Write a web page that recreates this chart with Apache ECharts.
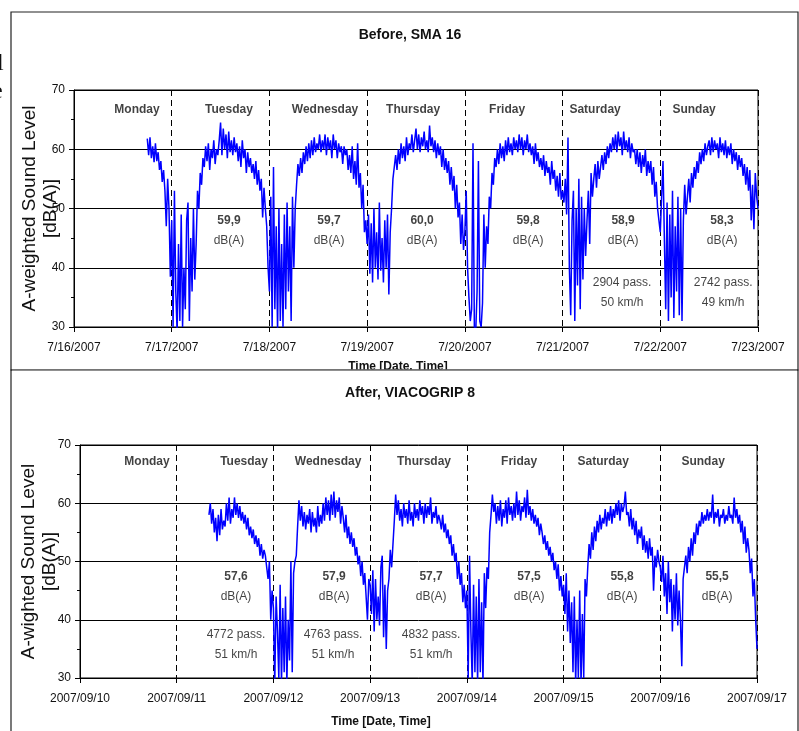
<!DOCTYPE html>
<html>
<head>
<meta charset="utf-8">
<title>Sound level, before / after</title>
<script src="https://cdn.jsdelivr.net/npm/echarts@6.0.0/dist/echarts.min.js"></script>
<style>
  html, body { margin: 0; padding: 0; background: #fff; }
  #chart { width: 799px; height: 731px; }
</style>
</head>
<body>
<div id="chart"></div>
<script>
// 20-minute A-weighted levels, x in days from the first tick
const STEP = 1 / 72;

const dayNames = ['Monday', 'Tuesday', 'Wednesday', 'Thursday', 'Friday', 'Saturday', 'Sunday'];

// ---- Before, SMA 16 ----
const beforeTicks = ['7/16/2007', '7/17/2007', '7/18/2007', '7/19/2007', '7/20/2007', '7/21/2007', '7/22/2007', '7/23/2007'];
const beforeStart = 0.75; // 7/16 18:00
const beforeLevels = [
  // Mon 18:00 - 23:40
  61.8, 59, 62, 58.5, 60.5, 57.8, 61, 58, 59.5, 56.5, 58, 54.5,
  56.5, 53, 47, 55, 50, 38.5,
  // Tue
  48, 30, 53, 36, 29, 44, 31, 49, 30, 40, 33, 48,
  51, 31, 45, 36, 50, 38, 44, 53, 50, 56, 54, 58.5,
  57, 60.5, 58, 61, 56.5, 60, 58.5, 61.5, 57.5, 60, 59, 61.5,
  64.5, 59, 63.5, 60, 62.5, 58.5, 63, 59.5, 61.5, 59, 62, 59.5,
  61, 58, 60.5, 57, 61.5, 58.5, 60, 56, 59.5, 57, 58.5, 56,
  57.5, 55, 58, 54, 56.5, 53, 55, 48.5, 53.5, 50, 47, 40,
  // Wed
  36, 52, 30, 57, 33, 47, 29, 50, 31, 44, 30, 49,
  33, 51, 36, 47, 31, 52, 40, 50, 54, 57.5, 55.5, 58.5,
  56, 59.5, 57.5, 60.5, 58, 61, 58.5, 61.5, 59, 62, 59.5, 61,
  60, 62.5, 59.5, 61.5, 60, 62.5, 59, 62, 60, 61.5, 58.5, 62.5,
  60, 61.5, 58.5, 61, 59.5, 60.5, 57.5, 60.5, 59, 60, 56.5, 59,
  56, 60.5, 55, 58, 54, 61, 53.5, 56, 50, 54, 46, 48,
  // Thu
  44, 49, 39, 47.5, 37.5, 50, 40, 46, 38, 51, 39.5, 45,
  37.5, 48, 40, 49, 35.5, 46, 50, 55, 57, 59, 56.5, 60,
  57.5, 61, 58.5, 60.5, 58, 62, 59, 61, 60, 62.5, 59.5, 61.5,
  63.5, 60, 62.5, 59.5, 62, 60.5, 63, 60, 61.5, 59.5, 64, 60.5,
  62, 59.5, 61.5, 58.5, 61, 59, 60.5, 57, 60, 56.5, 58.5, 56,
  58, 54, 57, 53, 55.5, 50, 54, 48.5, 51, 44, 49, 43,
  // Fri
  46, 53, 40, 35, 31, 33, 61, 30, 29, 36, 58, 31,
  30, 34, 49, 40, 47, 44, 52, 50, 56, 54, 58.5, 57,
  60, 57.5, 61, 58.5, 60.5, 58, 61.5, 59, 62, 59.5, 61, 59,
  62, 60, 61.5, 59.5, 62.5, 60, 62, 59, 61.5, 60, 62.5, 59.5,
  61, 59, 60.5, 57.5, 61, 58, 59.5, 57, 58.5, 56.5, 59, 55.5,
  58, 56, 57, 54, 58, 55, 56.5, 53, 55.5, 52, 56, 51.5,
  // Sat
  53, 51, 55, 49, 62, 40, 32, 48, 53, 31, 50, 37,
  55, 33, 52, 38, 50, 42, 48, 53, 44, 56, 52, 55,
  57.5, 53.5, 58, 55, 57, 59, 56.5, 59.5, 57.5, 60.5, 58.5, 61,
  59.5, 62, 60, 62.5, 59.5, 63, 60.5, 62, 59, 63, 60, 61.5,
  59.5, 62, 58.5, 61, 59.5, 60, 57.5, 60, 57, 59.5, 56, 59,
  57, 60, 55.5, 58, 56, 58, 54, 57, 52, 54.5, 50, 48,
  // Sun
  46, 52, 58, 45, 33, 51, 31, 49, 35, 53, 31.5, 47,
  36, 52, 32, 50, 31, 48, 54, 49, 52, 55, 51, 56,
  53.5, 57, 55, 58, 56, 59.5, 57.5, 60, 58, 61, 59, 60.5,
  61.5, 59, 62, 59.5, 61.5, 60, 61, 58.5, 62, 59.5, 61, 59,
  61.5, 58.5, 60.5, 59, 61, 57.5, 60, 58, 59.5, 56.5, 59, 57,
  58.5, 55.5, 57.5, 54, 57, 53, 56.5, 48, 54, 46.5, 56, 52,
  // 7/23 00:00
  50
];
const beforeMeans = ['59,9', '59,7', '60,0', '59,8', '58,9', '58,3']; // Tue..Sun
const beforeTraffic = [['2904 pass.', '50 km/h'], ['2742 pass.', '49 km/h']]; // Sat, Sun

// ---- After, VIACOGRIP 8 ----
const afterTicks = ['2007/09/10', '2007/09/11', '2007/09/12', '2007/09/13', '2007/09/14', '2007/09/15', '2007/09/16', '2007/09/17'];
const afterStart = 1 + 8 / 24; // 9/11 08:00
const afterLevels = [
  // Tue 08:00 - 23:40
  58, 60, 56.5, 59, 55, 57.5, 53.5, 58, 54.5, 59, 55.5, 57,
  56, 60, 57, 61, 56.5, 59, 57.5, 61, 58, 60, 57.5, 59.5,
  57, 58.5, 56.5, 58, 55.5, 57.5, 54.5, 56, 54, 55.5, 53, 54.5,
  52.5, 54, 51, 53, 50.5, 52, 51, 49, 47, 50, 40, 45,
  // Wed
  42, 29, 44, 38, 30, 46, 29, 42, 31, 44, 29, 40,
  33, 50, 31, 48, 50, 51, 56, 60.5, 57, 59.5, 56, 58.5,
  55.5, 58, 56.5, 59, 55, 58.5, 56, 57.5, 55, 59.5, 56, 58,
  56.5, 60, 57, 61, 58, 60.5, 57, 61.5, 58, 62, 57.5, 60.5,
  58.5, 61, 56.5, 59.5, 57.5, 55, 58, 54, 56, 53, 55, 52.5,
  54, 51, 52.5, 49.5, 51, 47.5, 50, 46, 48, 44, 40, 47,
  // Thu
  46, 41, 48.5, 38, 47, 40, 44, 39, 49, 51, 37, 46,
  35, 45, 47, 52, 49, 53, 57, 61.5, 58, 60.5, 57, 59,
  56, 60, 57.5, 59, 56.5, 60.5, 57, 58.5, 56, 60, 57.5, 59,
  57, 60.5, 58, 59.5, 56.5, 60, 57.5, 59.5, 58, 61, 56.5, 58.5,
  57.5, 59.5, 56.5, 58, 57, 55.5, 58, 55, 56.5, 54, 55.5, 53,
  54.5, 51, 53, 50, 51.5, 47, 50, 46, 48, 43, 46, 42,
  // Fri
  45, 30, 51, 38, 29, 46, 31, 44, 29, 47, 31, 43,
  29, 48, 42, 49, 47, 55, 58, 61.5, 58.5, 60, 56.5, 59.5,
  57, 60.5, 56, 59, 57.5, 60.5, 56.5, 61, 58, 59.5, 57, 60,
  57.5, 62, 58, 60.5, 57, 59.5, 58.5, 61, 57.5, 62.3, 58, 59.5,
  57, 59, 56.5, 58, 56, 57.5, 54.5, 56.5, 55, 53, 54.5, 52,
  53.5, 51, 52.5, 50, 51.5, 48.5, 50, 47, 49.5, 45, 47.5, 44,
  // Sat
  46, 41, 48, 38, 45, 36, 43, 31, 44, 29, 40, 30,
  45, 29, 41, 30, 47, 44, 49, 53, 50.5, 55, 52, 56,
  53.5, 57, 55, 58, 55.5, 57.5, 56.5, 59, 56, 58.5, 57, 59.5,
  56.5, 59, 57.5, 60, 58, 60.5, 57, 60, 58.5, 59.5, 62, 58,
  58.5, 56, 59, 55.5, 57.5, 54.5, 57, 53, 55.5, 54, 56, 52,
  54.5, 51.5, 53.5, 50.5, 54, 51, 52.5, 45, 51, 49, 52, 50,
  // Sun
  49, 46.5, 51, 44, 48, 41, 50, 43, 47, 38, 46, 40,
  48, 39, 45, 40, 32, 47, 49, 51, 48, 52.5, 50, 54,
  51, 55, 53, 56.5, 54.5, 57, 56, 58.5, 56.5, 58, 57, 59,
  57, 58.5, 57.5, 61.5, 56.5, 58.5, 57.5, 59, 56, 58, 57.5, 59,
  56.5, 58, 57, 59.5, 57.5, 58, 56.5, 61, 57.5, 59, 56.5, 58,
  55, 57, 53, 56, 51.5, 54, 52, 48, 50.5, 44, 47, 40,
  // 9/17 00:00
  35
];
const afterMeans = ['57,6', '57,9', '57,7', '57,5', '55,8', '55,5']; // Tue..Sun
const afterTraffic = [['4772 pass.', '51 km/h'], ['4763 pass.', '51 km/h'], ['4832 pass.', '51 km/h']]; // Tue..Thu

const FONT = '"Liberation Sans", Arial, sans-serif';
const INK = '#111';

const toPoints = (start, levels) => levels.map((v, i) => [start + i * STEP, v]);

// annotation placement (x in days, y in dB)
function notes(dayX, dayY, meanX, meanY, means, trafX, trafY, traffic) {
  const items = [];
  dayNames.forEach((d, i) => items.push({ value: [dayX[i], dayY], text: '{d|' + d + '}' }));
  means.forEach((m, i) => items.push({ value: [meanX[i], meanY], text: '{b|' + m + '}\n{n|dB(A)}' }));
  traffic.forEach((t, i) => items.push({ value: [trafX[i], trafY], text: '{n|' + t[0] + '}\n{n|' + t[1] + '}' }));
  return items;
}

function textSeries(idx, items) {
  return {
    type: 'scatter', xAxisIndex: idx, yAxisIndex: idx,
    symbolSize: 0, silent: true, z: 5,
    itemStyle: { color: '#000' },
    label: {
      show: true, position: [0, 0], align: 'center', verticalAlign: 'middle',
      color: INK, textBorderWidth: 0,
      formatter: p => p.data.text,
      rich: {
        d: { fontFamily: FONT, fontSize: 12, fontWeight: 'bold', color: INK, textBorderWidth: 0 },
        b: { fontFamily: FONT, fontSize: 12, fontWeight: 'bold', color: INK, lineHeight: 20, textBorderWidth: 0 },
        n: { fontFamily: FONT, fontSize: 12, color: INK, lineHeight: 20, textBorderWidth: 0 }
      }
    },
    data: items
  };
}

function xAxis(idx, ticks) {
  return {
    type: 'value', gridIndex: idx, min: 0, max: 7, interval: 1,
    axisLine: { lineStyle: { color: '#000', width: 1 } },
    axisTick: { show: true, length: 5, lineStyle: { color: '#000' } },
    axisLabel: { formatter: v => ticks[Math.round(v)], fontFamily: FONT, fontSize: 12, color: INK, margin: 15 },
    splitLine: { show: true, lineStyle: { color: '#000', type: [6, 4], width: 1 } }
  };
}

function yAxis(idx, name, gap) {
  return {
    type: 'value', gridIndex: idx, min: 30, max: 70, interval: 10,
    name: name, nameLocation: 'middle', nameRotate: 90, nameGap: gap, nameMoveOverlap: false,
    nameTextStyle: { fontFamily: FONT, fontSize: 19, color: INK, lineHeight: 21 },
    axisLine: { show: true, lineStyle: { color: '#000', width: 1 } },
    axisTick: { show: true, length: 5, lineStyle: { color: '#000' } },
    minorTick: { show: true, splitNumber: 2, length: 3, lineStyle: { color: '#000' } },
    axisLabel: { fontFamily: FONT, fontSize: 12, color: INK, margin: 9 },
    splitLine: { show: true, lineStyle: { color: '#000', width: 1 } }
  };
}

const chart = echarts.init(document.getElementById('chart'));
chart.setOption({
  animation: false,
  backgroundColor: '#fff',
  title: [
    { text: 'Before, SMA 16', left: 405, top: 23, textAlign: 'center',
      textStyle: { fontFamily: FONT, fontSize: 14, fontWeight: 'bold', color: INK } },
    { text: 'After, VIACOGRIP 8', left: 405, top: 381, textAlign: 'center',
      textStyle: { fontFamily: FONT, fontSize: 14, fontWeight: 'bold', color: INK } }
  ],
  grid: [
    { left: 74, top: 90, width: 684, height: 237, show: true, borderColor: '#000', borderWidth: 1,
      containLabel: false, outerBoundsMode: 'none' },
    { left: 80, top: 445, width: 677, height: 233, show: true, borderColor: '#000', borderWidth: 1,
      containLabel: false, outerBoundsMode: 'none' }
  ],
  xAxis: [xAxis(0, beforeTicks), xAxis(1, afterTicks)],
  yAxis: [yAxis(0, 'A-weighted Sound Level\n[dB(A)]', 13), yAxis(1, 'A-wighted Sound Level\n[dB(A)]', 20)],
  series: [
    { type: 'line', xAxisIndex: 0, yAxisIndex: 0, data: toPoints(beforeStart, beforeLevels),
      showSymbol: false, clip: true, lineStyle: { color: '#0000ff', width: 1.5 } },
    { type: 'line', xAxisIndex: 1, yAxisIndex: 1, data: toPoints(afterStart, afterLevels),
      showSymbol: false, clip: true, lineStyle: { color: '#0000ff', width: 1.5 } },
    textSeries(0, notes(
      [0.645, 1.586, 2.569, 3.470, 4.432, 5.333, 6.346], 66.6,
      [1.586, 2.610, 3.562, 4.647, 5.619, 6.632], 46.2, beforeMeans,
      [5.609, 6.643], 35.8, beforeTraffic)),
    textSeries(1, notes(
      [0.693, 1.696, 2.565, 3.557, 4.540, 5.409, 6.443], 67.1,
      [1.613, 2.627, 3.630, 4.643, 5.605, 6.587], 45.65, afterMeans,
      [1.613, 2.616, 3.630], 35.65, afterTraffic))
  ],
  graphic: [
    { type: 'rect', shape: { x: 11, y: 12, width: 787, height: 358 }, style: { fill: null, stroke: '#222', lineWidth: 1.2 }, z: 1 },
    { type: 'text', x: 398, y: 361, style: { text: 'Time [Date, Time]', align: 'center', verticalAlign: 'top', font: 'bold 12px ' + FONT, fill: INK }, z: 10 },
    { type: 'rect', shape: { x: 12, y: 369.5, width: 785, height: 10 }, style: { fill: '#fff' }, z: 100 },
    { type: 'rect', shape: { x: 11, y: 370, width: 787, height: 380 }, style: { fill: null, stroke: '#222', lineWidth: 1.2 }, z: 101 },
    { type: 'text', x: 381, y: 716, style: { text: 'Time [Date, Time]', align: 'center', verticalAlign: 'top', font: 'bold 12px ' + FONT, fill: INK }, z: 10 },
    { type: 'text', x: -3, y: 52, style: { text: 'l', font: '24px "Liberation Serif", serif', fill: INK } },
    { type: 'text', x: -8, y: 80, style: { text: 'e', font: '24px "Liberation Serif", serif', fill: INK } }
  ]
});
</script>
</body>
</html>
